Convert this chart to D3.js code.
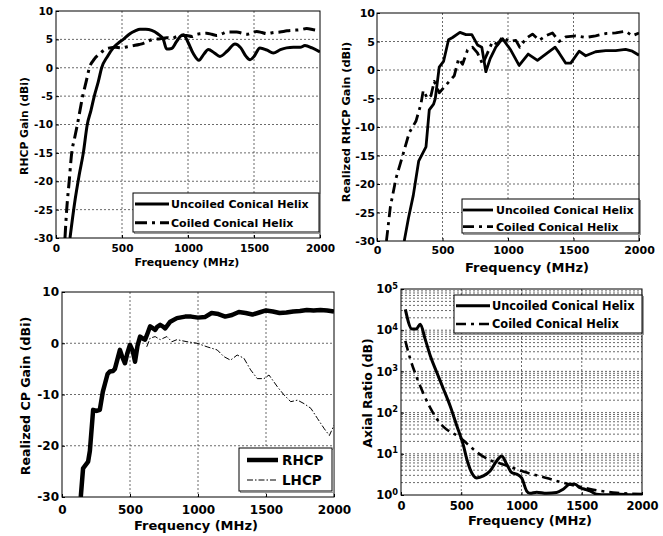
<!DOCTYPE html>
<html>
<head>
<meta charset="utf-8">
<script src="https://cdn.jsdelivr.net/npm/d3@7"></script>
<style>
body { margin: 0; background: #fff; }
svg text { font-family: "DejaVu Sans", sans-serif; font-weight: bold; fill: #000; }
</style>
</head>
<body>
<svg id="chart" width="663" height="536"></svg>
<script>
// shared x axis
const xDomain = [0, 2000]
const xTicks = [0, 500, 1000, 1500, 2000]
const gainTicks5 = [-30, -25, -20, -15, -10, -5, 0, 5, 10]
const gainTicks10 = [-30, -20, -10, 0, 10]
const arTicks = [1, 10, 100, 1000, 10000, 100000]

// top left: RHCP gain
const p1UncoiledFreq = [106,140,175,207,237,265,290,320,346,390,434,470,510,560,600,636,680,725,770,813,838,876,910,940,965,1000,1040,1083,1120,1154,1200,1242,1300,1356,1400,1440,1470,1500,1545,1600,1646,1700,1747,1798,1850,1886,1940,2000]
const p1UncoiledGain = [-30,-24,-19,-15,-10,-7.5,-5,-2.5,0,2,3.5,4.3,5,6,6.5,6.8,6.8,6.6,6,5,3.3,3.4,4.5,5.5,5.8,4.5,2.5,1.3,2.4,3.2,2.6,2,3,4.2,3.5,2,1.4,2,3.5,3.1,2.6,3.2,3.5,3.6,3.6,3.9,3.5,2.8]
const p1CoiledFreq = [68,81,100,119,140,162,182,202,228,253,290,333,370,409,450,490,540,586,630,662,700,737,790,838,880,914,950,990,1030,1066,1100,1141,1180,1217,1260,1293,1330,1369,1410,1444,1480,1520,1560,1596,1650,1697,1750,1798,1850,1899,1950,2000]
const p1CoiledGain = [-30,-25,-20,-15,-12.5,-10,-7.5,-5,-2.5,0,1.5,2.5,3.2,3.5,3.6,3.5,3.7,3.9,4.1,4.3,4.7,5,5.1,5.3,5.2,5.5,5.7,5.7,5.5,5.9,6,6.1,5.9,5.7,6,6.3,6.3,6.3,6.1,5.9,6.1,6.4,6.2,6,6.2,6.3,6.5,6.6,6.7,6.9,6.7,6.5]

// top right: realized RHCP gain
const p2UncoiledFreq = [208,240,277,318,374,399,432,445,475,508,546,577,633,679,724,767,800,831,864,907,958,1021,1085,1154,1225,1301,1360,1390,1441,1479,1543,1593,1669,1746,1822,1898,1949,2000]
const p2UncoiledGain = [-30,-26,-22,-16,-13.5,-7,-6,-5,0.5,1.5,5.3,5.7,6.6,6.2,6.2,4.4,4,-0.3,2,4,5.5,3.5,0.8,2.8,1.7,3,4,3,1.2,1.2,3.3,2.5,3.2,3.4,3.4,3.6,3.3,2.6]
const p2CoiledFreq = [72,102,145,196,246,297,335,353,386,412,437,475,513,551,590,623,653,691,729,767,806,844,882,920,958,1009,1060,1090,1136,1187,1238,1288,1339,1390,1441,1517,1593,1669,1746,1822,1898,1949,2000]
const p2CoiledGain = [-30,-24,-19,-15,-11,-9,-6,-3.6,-5,-4.5,-2,-4,-3,-2,-1,2,1,3.5,4,3,1,3,5,4.5,5.8,5,5.2,4,5.5,6.3,5.2,6,6.5,5,5.8,6,5.7,6,6.4,6.5,6.8,6,6.5]

// bottom left: realized CP gain
const p3RhcpFreq = [138,155,192,205,229,255,278,300,315,335,352,375,389,426,445,463,480,500,520,537,555,574,595,611,630,648,665,685,700,722,740,759,796,845,906,950,1000,1050,1100,1150,1200,1250,1300,1350,1400,1450,1500,1550,1600,1650,1700,1750,1800,1850,1900,1950,2000]
const p3RhcpGain = [-30,-24.4,-23.1,-21,-13,-13.2,-13,-9.5,-8,-6,-5.5,-5.4,-5,-1.3,-2.8,-3.9,-2,-0.3,-1.5,-3.6,-0.5,1.3,0.9,0.7,2,3.3,3,2.6,3.2,3.6,3.3,2.9,4.2,4.9,5.2,5.2,5,5.1,5.9,5.7,5.2,5.5,6.1,5.9,5.6,6,6.4,6.2,5.9,6,6.2,6.3,6.5,6.4,6.5,6.4,6.2]
const p3LhcpFreq = [623,648,685,722,771,808,845,919,993,1067,1141,1190,1239,1288,1337,1387,1436,1485,1522,1584,1633,1682,1732,1781,1830,1879,1929,1966,2000]
const p3LhcpGain = [-0.7,1,1.3,0.7,1.3,0.3,0.7,0.3,0,-0.7,-1.3,-2.6,-3.3,-2.3,-2.9,-5.2,-6.9,-6.9,-6.2,-8.5,-10.1,-11.4,-11.1,-11.8,-12.7,-14.7,-16.7,-18,-16]

// bottom right: axial ratio (log)
const p4UncoiledFreq = [36,91,127,160,201,243,298,353,408,463,519,546,574,629,684,739,795,836,877,919,960,1001,1043,1070,1126,1208,1291,1346,1402,1443,1484,1526,1567,1622,1705,1815,1898,2000]
const p4UncoiledAR = [32000,10700,10700,14000,6000,2400,930,370,145,48,15.5,7.4,4.2,2.6,2.9,3.8,6.8,8.9,5.6,3.5,3.2,2.6,1.25,1.1,1.17,1.1,1.15,1.38,1.82,1.82,1.5,1.38,1.26,1.05,1.02,1.05,1.02,1]
const p4CoiledFreq = [36,77,132,188,243,298,353,408,463,519,574,629,684,739,795,877,960,1043,1126,1208,1291,1374,1457,1540,1622,1705,1788,1898,2000]
const p4CoiledAR = [5500,2000,700,280,130,70,45,34,28,21,15,11,8.5,7,6.2,5.2,4.2,3.5,3,2.6,2.2,1.9,1.65,1.45,1.3,1.2,1.13,1.08,1.05]

const svg = d3.select('#chart')

const panels = [
	{
		id: 1, left: 56, right: 320, top: 11, bottom: 238,
		yDomain: [-30, 10], yTicks: gainTicks5,
		tickFont: 10.5, xPad: 6.5, yPad: 3,
		xLabel: 'Frequency (MHz)', xLabelPos: [187, 266], xLabelFont: 11,
		yLabel: 'RHCP Gain (dBi)', yLabelPos: [28, 126], yLabelFont: 10.8,
		legend: {box: [133, 193, 319, 232], rows: [204, 222.7], lineX: [135, 169], textX: 171, font: 11, dy: 4.3},
		series: [
			{name: 'Uncoiled Conical Helix', f: p1UncoiledFreq, v: p1UncoiledGain, width: 3, dash: null, curve: d3.curveMonotoneX},
			{name: 'Coiled Conical Helix', f: p1CoiledFreq, v: p1CoiledGain, width: 3, dash: '12,5,3,5', curve: d3.curveMonotoneX}
		]
	},
	{
		id: 2, left: 377, right: 639, top: 13, bottom: 241,
		yDomain: [-30, 10], yTicks: gainTicks5,
		tickFont: 11, xPad: 5.2, yPad: 2,
		xLabel: 'Frequency (MHz)', xLabelPos: [527, 271.5], xLabelFont: 13,
		yLabel: 'Realized RHCP Gain (dBi)', yLabelPos: [350, 122], yLabelFont: 11.3,
		legend: {box: [462, 199, 639, 233], rows: [210, 226.7], lineX: [463, 493], textX: 496, font: 11, dy: 4.3},
		series: [
			{name: 'Uncoiled Conical Helix', f: p2UncoiledFreq, v: p2UncoiledGain, width: 2.8, dash: null, curve: d3.curveLinear},
			{name: 'Coiled Conical Helix', f: p2CoiledFreq, v: p2CoiledGain, width: 2.8, dash: '11,5,3,5', curve: d3.curveLinear}
		]
	},
	{
		id: 3, left: 62, right: 334, top: 292, bottom: 497,
		yDomain: [-30, 10], yTicks: gainTicks10,
		tickFont: 12, xPad: 8.5, yPad: 3,
		xLabel: 'Frequency (MHz)', xLabelPos: [196, 530], xLabelFont: 13,
		yLabel: 'Realized CP Gain (dBi)', yLabelPos: [30, 396], yLabelFont: 12.6,
		legend: {box: [239, 448, 332, 491], rows: [460, 480], lineX: [247, 278], textX: 282, font: 13.5, dy: 4.8},
		series: [
			{name: 'RHCP', f: p3RhcpFreq, v: p3RhcpGain, width: 4.5, dash: null, curve: d3.curveLinear},
			{name: 'LHCP', f: p3LhcpFreq, v: p3LhcpGain, width: 1, dash: '6,2,1.5,2', curve: d3.curveLinear}
		]
	},
	{
		id: 4, left: 401, right: 642, top: 289, bottom: 495, log: true,
		yDomain: [1, 100000], yTicks: arTicks,
		tickFont: 11.5, xPad: 6.8, yPad: 3,
		xLabel: 'Frequency (MHz)', xLabelPos: [530, 525], xLabelFont: 13,
		yLabel: 'Axial Ratio (dB)', yLabelPos: [372, 393], yLabelFont: 12.4,
		legend: {box: [454, 295, 642, 333], rows: [305.7, 324], lineX: [456, 490], textX: 492, font: 11.4, dy: 4.3},
		series: [
			{name: 'Uncoiled Conical Helix', f: p4UncoiledFreq, v: p4UncoiledAR, width: 3, dash: null, curve: d3.curveMonotoneX},
			{name: 'Coiled Conical Helix', f: p4CoiledFreq, v: p4CoiledAR, width: 2.6, dash: '10,5,3,5', curve: d3.curveMonotoneX}
		]
	}
]

panels.forEach(drawPanel)

function drawPanel(p) {
	const g = svg.append('g').attr('class', 'panel' + p.id)
	const x = d3.scaleLinear().domain(xDomain).range([p.left, p.right])
	const y = (p.log ? d3.scaleLog() : d3.scaleLinear()).domain(p.yDomain).range([p.bottom, p.top])

	g.append('clipPath').attr('id', 'clip' + p.id)
		.append('rect')
		.attr('x', p.left).attr('y', p.top)
		.attr('width', p.right - p.left).attr('height', p.bottom - p.top)

	// dotted grid
	let gridY = p.yTicks.slice(1, -1)
	if (p.log) {
		gridY = []
		p.yTicks.slice(0, -1).forEach(d => {
			for (let k = 1; k < 10; k++) if (d * k > p.yDomain[0]) gridY.push(d * k)
		})
	}
	const grid = g.append('g')
		.attr('stroke', '#444').attr('stroke-width', 0.8)
		.attr('stroke-dasharray', '2,2').attr('fill', 'none')
	grid.selectAll('line.vgrid').data(xTicks.slice(1, -1)).join('line')
		.attr('class', 'vgrid')
		.attr('x1', d => x(d)).attr('x2', d => x(d))
		.attr('y1', p.top).attr('y2', p.bottom)
	grid.selectAll('line.hgrid').data(gridY).join('line')
		.attr('class', 'hgrid')
		.attr('x1', p.left).attr('x2', p.right)
		.attr('y1', d => y(d)).attr('y2', d => y(d))

	// axes (plain hyphen minus, no thousands comma)
	const xAxis = d3.axisBottom(x).tickValues(xTicks).tickFormat(d => String(d))
		.tickSize(-3).tickPadding(p.xPad)
	g.append('g').attr('transform', 'translate(0,' + p.bottom + ')')
		.call(xAxis)
		.call(a => a.select('.domain').remove())
		.call(a => a.selectAll('text').style('font-size', p.tickFont + 'px'))

	const yAxis = d3.axisLeft(y).tickValues(p.yTicks).tickFormat(d => String(d))
		.tickSize(-3).tickPadding(p.yPad)
	if (p.log) yAxis.tickFormat(() => '')
	const ya = g.append('g').attr('transform', 'translate(' + p.left + ',0)')
		.call(yAxis)
		.call(a => a.select('.domain').remove())
	ya.selectAll('text').style('font-size', p.tickFont + 'px')
	if (p.log) {
		ya.selectAll('text').each(function(d) {
			const t = d3.select(this)
			t.text('10')
			t.append('tspan').attr('dy', '-0.55em').style('font-size', '0.72em')
				.text(Math.round(Math.log10(d)))
		})
	}

	// curves
	const lines = g.append('g').attr('clip-path', 'url(#clip' + p.id + ')')
	p.series.forEach(s => {
		const line = d3.line().x(d => x(d[0])).y(d => y(d[1])).curve(s.curve)
		lines.append('path')
			.datum(d3.zip(s.f, s.v))
			.attr('d', line)
			.attr('fill', 'none')
			.attr('stroke', '#000')
			.attr('stroke-width', s.width)
			.attr('stroke-linejoin', 'round')
			.attr('stroke-dasharray', s.dash)
	})

	// frame
	g.append('rect')
		.attr('x', p.left).attr('y', p.top)
		.attr('width', p.right - p.left).attr('height', p.bottom - p.top)
		.attr('fill', 'none').attr('stroke', '#000').attr('stroke-width', 1)

	// legend
	const L = p.legend
	const lg = g.append('g')
	lg.append('rect')
		.attr('x', L.box[0] + 1.5).attr('y', L.box[1] + 1.5)
		.attr('width', L.box[2] - L.box[0]).attr('height', L.box[3] - L.box[1])
		.attr('fill', 'none').attr('stroke', '#999')
	lg.append('rect')
		.attr('x', L.box[0]).attr('y', L.box[1])
		.attr('width', L.box[2] - L.box[0]).attr('height', L.box[3] - L.box[1])
		.attr('fill', '#fff').attr('stroke', '#000')
	p.series.forEach((s, i) => {
		lg.append('line')
			.attr('x1', L.lineX[0]).attr('x2', L.lineX[1])
			.attr('y1', L.rows[i]).attr('y2', L.rows[i])
			.attr('stroke', '#000').attr('stroke-width', s.width)
			.attr('stroke-dasharray', s.dash)
		lg.append('text')
			.attr('x', L.textX).attr('y', L.rows[i] + L.dy)
			.style('font-size', L.font + 'px')
			.text(s.name)
	})

	// axis titles
	g.append('text')
		.attr('x', p.xLabelPos[0]).attr('y', p.xLabelPos[1])
		.attr('text-anchor', 'middle')
		.style('font-size', p.xLabelFont + 'px')
		.text(p.xLabel)
	g.append('text')
		.attr('transform', 'translate(' + p.yLabelPos[0] + ',' + p.yLabelPos[1] + ') rotate(-90)')
		.attr('text-anchor', 'middle')
		.style('font-size', p.yLabelFont + 'px')
		.text(p.yLabel)
}
</script>
</body>
</html>
